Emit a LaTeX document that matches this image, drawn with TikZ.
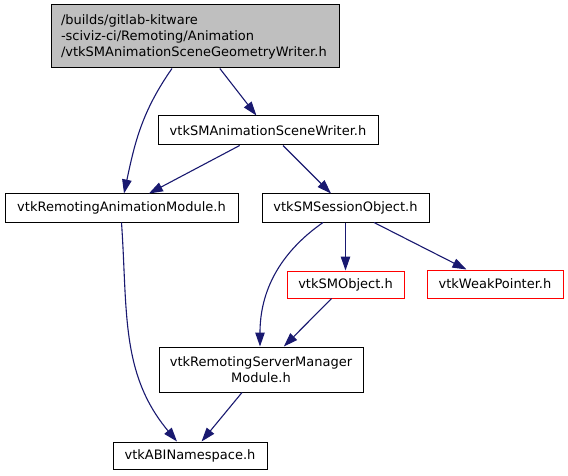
\documentclass[tikz,border=0pt]{standalone}
\usepackage{fontspec}
\setmainfont{DejaVu Sans}
\usetikzlibrary{arrows.meta}
\definecolor{edgeblue}{HTML}{191970}
\definecolor{rootgray}{HTML}{BFBFBF}
\tikzset{
  box/.style={draw=black, line width=1pt, inner sep=0pt, minimum height=28pt,
    font=\fontsize{13}{16}\selectfont},
  extbox/.style={box, draw=red},
  edge/.style={draw=edgeblue, line width=1.1pt, -{Triangle[length=14pt,width=9.5pt]}}
}
\begin{document}
\begin{tikzpicture}[x=1pt,y=1pt]
      \useasboundingbox (0,0) rectangle (568,-476);
      \draw
        (195,-36.5) node[box, fill=rootgray, minimum width=288pt, minimum height=63pt,
          text width=268pt, align=left] (geom){/builds/gitlab-kitware\\-sciviz-ci/Remoting/Animation\\/vtkSMAnimationSceneGeometryWriter.h}
        (268,-130.5) node[box, minimum width=220pt, minimum height=29pt] (scene){vtkSMAnimationSceneWriter.h}
        (121.5,-208) node[box, minimum width=233pt] (anim){vtkRemotingAnimationModule.h}
        (345.5,-208) node[box, minimum width=167pt] (session){vtkSMSessionObject.h}
        (345.5,-284.5) node[extbox, minimum width=117pt, minimum height=27pt] (smobj){vtkSMObject.h}
        (495,-284) node[extbox, minimum width=136pt] (weak){vtkWeakPointer.h}
        (261,-369.5) node[box, minimum width=204pt, minimum height=45pt, align=center] (server){vtkRemotingServerManager\\Module.h}
        (190,-455.5) node[box, minimum width=154pt, minimum height=27pt] (abi){vtkABINamespace.h};
      \begin{scope}[edge]
        \draw ([xshift=-23pt]geom.south) to[out=-125,in=78] ([xshift=2.5pt]anim.north);
        \draw (geom) to (scene);
        \draw (scene) to (anim);
        \draw (scene) to (session);
        \draw (anim.south) to[out=-86,in=130] ([xshift=-13pt]abi.north);
        \draw ([xshift=-22.5pt]session.south) to[out=-145,in=90] ([xshift=-1pt]server.north);
        \draw (session) to (smobj);
        \draw (session) to (weak);
        \draw (smobj) to (server);
        \draw (server) to (abi);
      \end{scope}
    \end{tikzpicture}
\end{document}
